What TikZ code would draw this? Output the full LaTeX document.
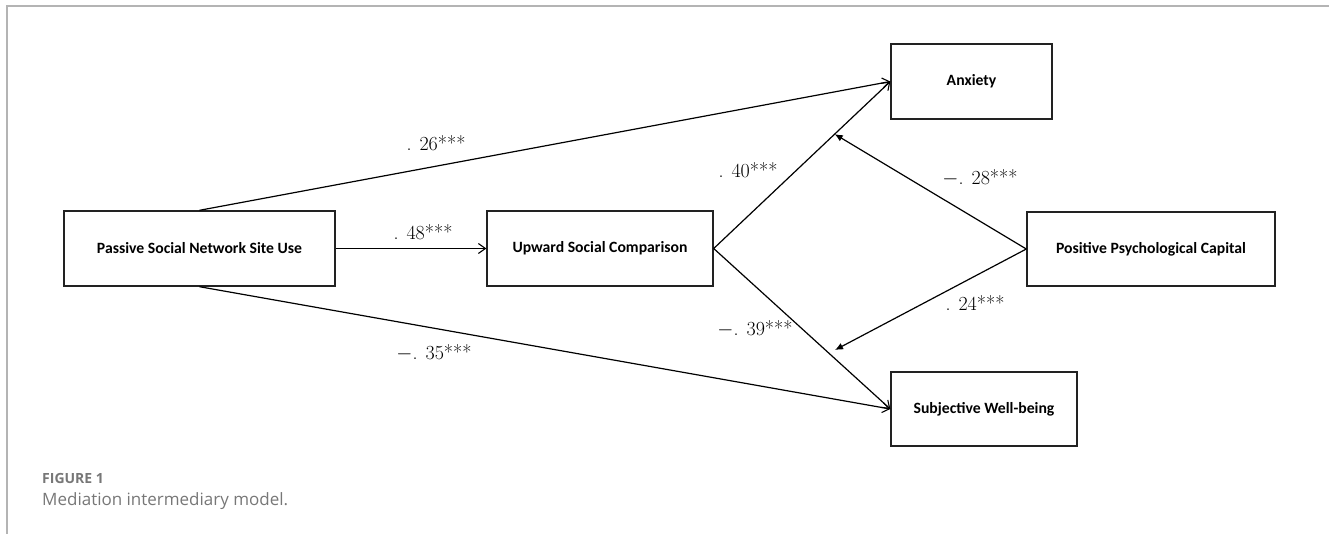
\documentclass[tikz,border=0pt]{standalone}
\usepackage{fontspec}
\setmainfont{Latin Modern Roman}
\newfontfamily\boxfont{Carlito}
\newfontfamily\capfont{Open Sans}
\usetikzlibrary{arrows.meta}
\definecolor{framegray}{HTML}{B4B4B4}
\definecolor{capgray}{HTML}{777777}
\definecolor{boxline}{HTML}{222222}
\tikzset{
  var/.style={draw=boxline, line width=1.4pt, fill=white, inner sep=0pt,
    font=\boxfont\bfseries\fontsize{15.7}{18}\selectfont},
  path/.style={line width=1.2pt, -{Straight Barb[length=7pt,width=10pt,line width=1.1pt]}},
  moder/.style={line width=1.2pt, -{Latex[length=8pt,width=7pt]}},
  coef/.style={font=\fontsize{20}{22}\selectfont, inner sep=0pt},
}
\newcommand{\pt}{.\hspace{0.4em}}
\begin{document}
\begin{tikzpicture}[x=1pt,y=-1pt]
\useasboundingbox (0,0) rectangle (1329,533);
% frame
\draw[framegray, line width=2pt] (7,534) -- (7,6) -- (1330,6);
% variables
\node[var, minimum width=271pt, minimum height=75pt] (psn) at (199.5,248.5) {Passive Social Network Site Use};
\node[var, minimum width=226pt, minimum height=75pt] (usc) at (600,248.5) {Upward Social Comparison};
\node[var, minimum width=161pt, minimum height=75pt] (anx) at (971.5,81.5) {Anxiety};
\node[var, minimum width=248pt, minimum height=74pt] (ppc) at (1151,249) {Positive Psychological Capital};
\node[var, minimum width=186pt, minimum height=74pt] (swb) at (984,409) {Subjective Well-being};
% paths
\draw[path] (psn.east) -- (usc.west);
\draw[path] (psn.north) -- (anx.west);
\draw[path] (psn.south) -- (swb.west);
\draw[path] (usc.east) -- (anx.west);
\draw[path] (usc.east) -- (swb.west);
\path (usc.east) -- (anx.west) coordinate[pos=0.685] (m1);
\coordinate (m2) at (835,350);
\draw[moder] (ppc.west) -- (m1);
\draw[moder] (ppc.west) -- (m2);
% coefficients
\node[coef] (c26) at (436,143) {\pt26***};
\node[coef] (c48) at (423,232) {\pt48***};
\node[coef] (c35) at (434,353) {$-$\pt35***};
\node[coef] (c40) at (748,170) {\pt40***};
\node[coef] (c39) at (755,329) {$-$\pt39***};
\node[coef] (c28) at (980,178) {$-$\pt28***};
\node[coef] (c24) at (975,303) {\pt24***};
% caption
\node[anchor=base west, inner sep=0pt, text=capgray, font=\capfont\bfseries\fontsize{14}{16}\selectfont] (fig) at (42,483) {FIGURE 1};
\node[anchor=base west, inner sep=0pt, text=capgray, font=\capfont\fontsize{17}{19}\selectfont] (cap) at (42,505) {Mediation intermediary model.};
\end{tikzpicture}
\end{document}
